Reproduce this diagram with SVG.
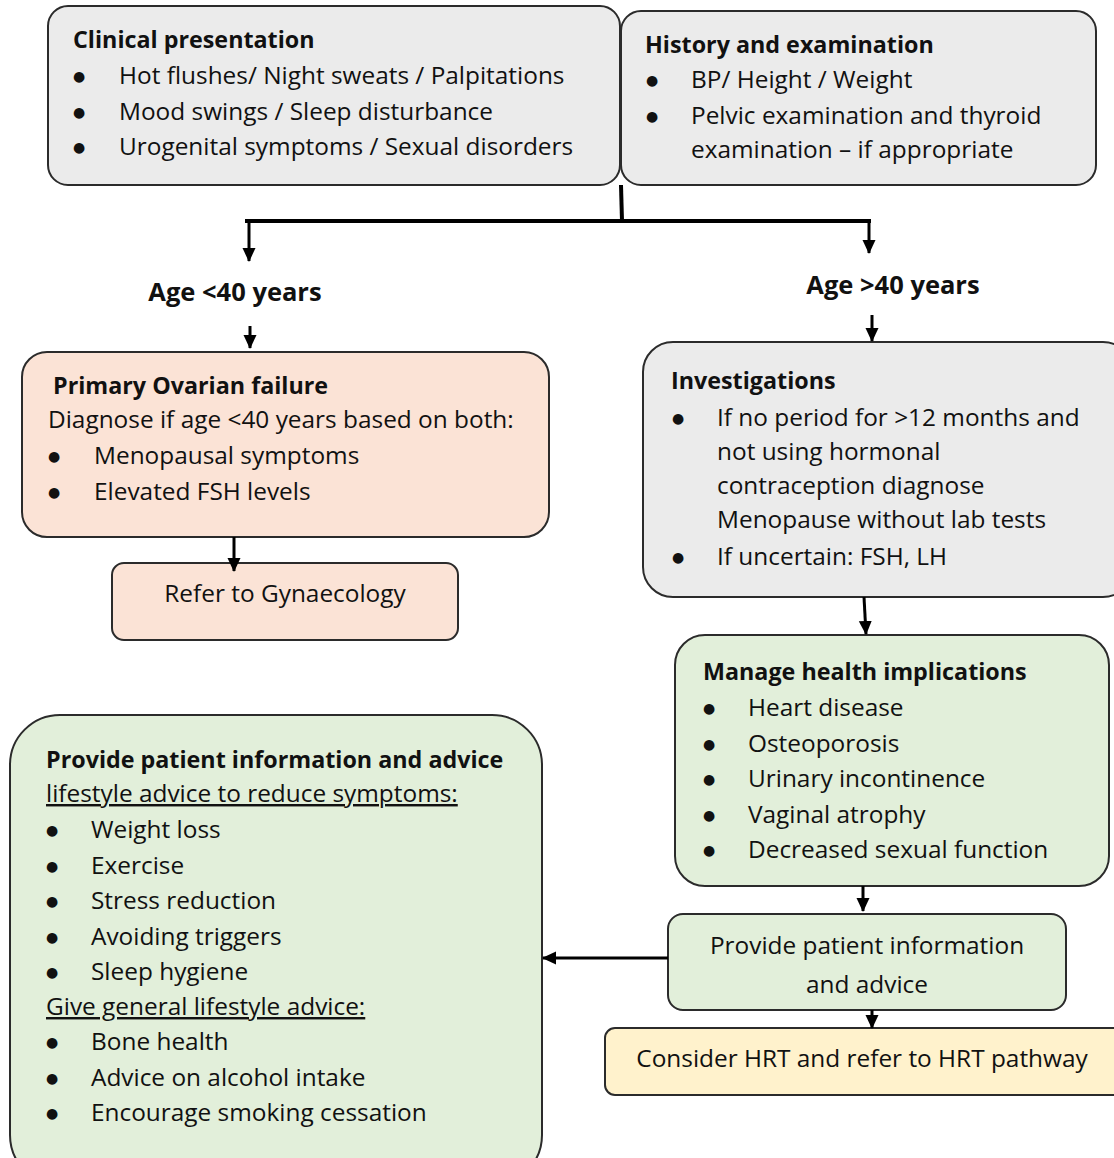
<svg xmlns="http://www.w3.org/2000/svg" width="1114" height="1158" viewBox="0 0 1114 1158">
<defs>
<style>
.t{font-family:"Open Sans","Noto Sans",Lato,sans-serif;font-size:24.4px;fill:#111}
.b{font-weight:bold;font-size:23.3px}
.big{font-size:25.5px}
.c{text-anchor:middle}
.u{text-decoration:underline}
.bu{font-family:"DejaVu Sans",sans-serif;font-size:14px;fill:#111;text-anchor:middle}
.box{stroke:#2b2b2b;stroke-width:2}
.gray{fill:#ebebeb}
.peach{fill:#fbe3d6}
.green{fill:#e2efda}
.yellow{fill:#fff2cc}
.ln{stroke:#000;stroke-width:3;fill:none}
.thick{stroke:#000;stroke-width:4;fill:none}
</style>
<marker id="ah" markerUnits="userSpaceOnUse" markerWidth="16" markerHeight="16" refX="13" refY="8" orient="auto">
<path d="M0,1.5 L14,8 L0,14.5 Z" fill="#000"/>
</marker>
</defs>
<rect width="1114" height="1158" fill="#fff"/>

<g id="clinical">
<rect class="box gray" x="48" y="6" width="572" height="179" rx="20"/>
<text class="t b" x="73" y="48">Clinical presentation</text>
<text class="bu" x="79" y="81">●</text><text class="t" x="119" y="84">Hot flushes/ Night sweats / Palpitations</text>
<text class="bu" x="79" y="117">●</text><text class="t" x="119" y="120">Mood swings / Sleep disturbance</text>
<text class="bu" x="79" y="152">●</text><text class="t" x="119" y="155">Urogenital symptoms / Sexual disorders</text>
</g>

<g id="history">
<rect class="box gray" x="621" y="11" width="475" height="174" rx="20"/>
<text class="t b" x="645" y="53">History and examination</text>
<text class="bu" x="652" y="85">●</text><text class="t" x="691" y="88">BP/ Height / Weight</text>
<text class="bu" x="652" y="121">●</text><text class="t" x="691" y="124">Pelvic examination and thyroid</text>
<text class="t" x="691" y="158">examination – if appropriate</text>
</g>

<g id="age-lt40"><text class="t b big c" x="235" y="301">Age &lt;40 years</text></g>
<g id="age-gt40"><text class="t b big c" x="893" y="294">Age &gt;40 years</text></g>

<g id="primary">
<rect class="box peach" x="22" y="352" width="527" height="185" rx="25"/>
<text class="t b" x="53" y="394">Primary Ovarian failure</text>
<text class="t" x="48" y="428">Diagnose if age &lt;40 years based on both:</text>
<text class="bu" x="54" y="461">●</text><text class="t" x="94" y="464">Menopausal symptoms</text>
<text class="bu" x="54" y="497">●</text><text class="t" x="94" y="500">Elevated FSH levels</text>
</g>

<g id="refer">
<rect class="box peach" x="112" y="563" width="346" height="77" rx="12"/>
<text class="t c" x="285" y="602">Refer to Gynaecology</text>
</g>

<g id="investigations">
<rect class="box gray" x="643" y="342" width="490" height="255" rx="30"/>
<text class="t b" x="671" y="389">Investigations</text>
<text class="bu" x="678" y="423">●</text><text class="t" x="717" y="426">If no period for &gt;12 months and</text>
<text class="t" x="717" y="460">not using hormonal</text>
<text class="t" x="717" y="494">contraception diagnose</text>
<text class="t" x="717" y="528">Menopause without lab tests</text>
<text class="bu" x="678" y="562">●</text><text class="t" x="717" y="565">If uncertain: FSH, LH</text>
</g>

<g id="manage">
<rect class="box green" x="675" y="635" width="434" height="251" rx="30"/>
<text class="t b" x="703" y="680">Manage health implications</text>
<text class="bu" x="709" y="713">●</text><text class="t" x="748" y="716">Heart disease</text>
<text class="bu" x="709" y="749">●</text><text class="t" x="748" y="752">Osteoporosis</text>
<text class="bu" x="709" y="784">●</text><text class="t" x="748" y="787">Urinary incontinence</text>
<text class="bu" x="709" y="820">●</text><text class="t" x="748" y="823">Vaginal atrophy</text>
<text class="bu" x="709" y="855">●</text><text class="t" x="748" y="858">Decreased sexual function</text>
</g>

<g id="provide-small">
<rect class="box green" x="668" y="914" width="398" height="96" rx="15"/>
<text class="t c" x="867" y="954">Provide patient information</text>
<text class="t c" x="867" y="993">and advice</text>
</g>

<g id="hrt">
<rect class="box yellow" x="605" y="1028" width="520" height="67" rx="10"/>
<text class="t c" x="862" y="1067">Consider HRT and refer to HRT pathway</text>
</g>

<g id="provide-big">
<rect class="box green" x="10" y="715" width="532" height="470" rx="50"/>
<text class="t b" x="46" y="768">Provide patient information and advice</text>
<text class="t u" x="46" y="802">lifestyle advice to reduce symptoms:</text>
<text class="bu" x="52" y="835">●</text><text class="t" x="91" y="838">Weight loss</text>
<text class="bu" x="52" y="871">●</text><text class="t" x="91" y="874">Exercise</text>
<text class="bu" x="52" y="906">●</text><text class="t" x="91" y="909">Stress reduction</text>
<text class="bu" x="52" y="942">●</text><text class="t" x="91" y="945">Avoiding triggers</text>
<text class="bu" x="52" y="977">●</text><text class="t" x="91" y="980">Sleep hygiene</text>
<text class="t u" x="46" y="1015">Give general lifestyle advice:</text>
<text class="bu" x="52" y="1047">●</text><text class="t" x="91" y="1050">Bone health</text>
<text class="bu" x="52" y="1083">●</text><text class="t" x="91" y="1086">Advice on alcohol intake</text>
<text class="bu" x="52" y="1118">●</text><text class="t" x="91" y="1121">Encourage smoking cessation</text>
</g>

<g id="connectors">
<path class="thick" d="M621,185 L622,221"/>
<path class="thick" d="M245,221 L871,221"/>
<path class="ln" d="M249,221 L249,261" marker-end="url(#ah)"/>
<path class="ln" d="M869,221 L869,253" marker-end="url(#ah)"/>
<path class="ln" d="M250,326 L250,348" marker-end="url(#ah)"/>
<path class="ln" d="M872,315 L872,341" marker-end="url(#ah)"/>
<path class="ln" d="M234,537 L234,571" marker-end="url(#ah)"/>
<path class="ln" d="M864,597 L866,634" marker-end="url(#ah)"/>
<path class="ln" d="M863,886 L863,911" marker-end="url(#ah)"/>
<path class="ln" d="M668,958 L543,958" stroke-width="2" marker-end="url(#ah)"/>
<path class="ln" d="M872,1010 L872,1028" marker-end="url(#ah)"/>
</g>
</svg>
